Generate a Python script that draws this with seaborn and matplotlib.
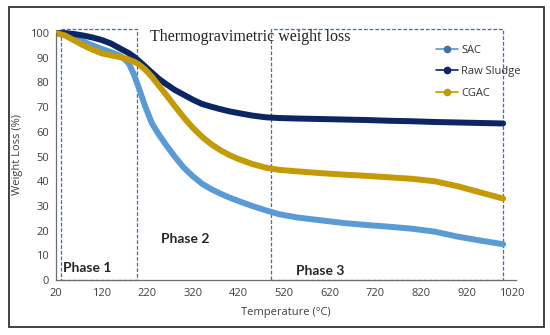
import pandas as pd
import matplotlib
matplotlib.use("Agg")
import matplotlib.pyplot as plt
import seaborn as sns
from matplotlib.lines import Line2D
from matplotlib.patches import Rectangle

# values
temperature = [20, 40, 60, 80, 100, 120, 140, 160, 170, 180, 190, 200, 215, 230, 245, 260, 280, 300,
               320, 340, 360, 380, 400, 420, 450, 480, 510, 550, 600, 650, 700, 750, 800, 850, 900,
               950, 1000]
sac = [100, 99.5, 98, 96.5, 95, 93.6, 92.3, 90.8, 89.5, 87.5, 83.5, 78.5, 70.5, 63.5, 59, 55, 50, 45.5,
       42, 39, 36.8, 35, 33.4, 32, 30, 28.2, 26.6, 25.3, 24.2, 23.1, 22.3, 21.6, 20.8, 19.6, 17.6,
       16, 14.5]
raw_sludge = [100, 100, 99.6, 99, 98.2, 97.2, 95.8, 93.8, 92.8, 91.8, 90.5, 89, 86.5, 84, 81.5, 79.5, 77,
              75, 73, 71.3, 70.2, 69.2, 68.3, 67.6, 66.6, 65.9, 65.6, 65.4, 65.2, 65, 64.8, 64.5, 64.3,
              64, 63.8, 63.6, 63.4]
cgac = [100, 99, 97, 95, 93.3, 91.8, 91, 90.3, 89.8, 89.2, 88.5, 87.5, 85.3, 82.3, 78.8, 75.3, 70.5, 65.8,
        61.6, 58, 55, 52.6, 50.6, 49, 47, 45.5, 44.6, 44, 43.3, 42.7, 42.2, 41.6, 41, 40, 38,
        35.5, 33]

series = ["SAC", "Raw Sludge", "CGAC"]
colors = {"SAC": "#5b9bd5", "Raw Sludge": "#0b2565", "CGAC": "#c49a06"}
marker_colors = {"SAC": "#44729f", "Raw Sludge": "#0b2565", "CGAC": "#c49a06"}
x_ticks = [20, 120, 220, 320, 420, 520, 620, 720, 820, 920, 1020]
y_ticks = [0, 10, 20, 30, 40, 50, 60, 70, 80, 90, 100]

df = pd.DataFrame({"Temperature": temperature * 3,
                   "Weight": sac + raw_sludge + cgac,
                   "Sample": ["SAC"] * len(sac) + ["Raw Sludge"] * len(raw_sludge) + ["CGAC"] * len(cgac)})

sns.set_style("white")
fig = plt.figure(figsize=(5.5, 3.35), dpi=100)
ax = fig.add_axes([0.102, 0.164, 0.836, 0.752])

# outer frame
fig.patches.append(Rectangle((0.016, 0.024), 0.973, 0.955, transform=fig.transFigure,
                             fill=False, edgecolor="#333333", lw=1.3))

sns.lineplot(data=df, x="Temperature", y="Weight", hue="Sample", hue_order=series,
             palette=colors, lw=4.3, legend=False, ax=ax, sort=False)
for ln in ax.get_lines():
    ln.set_solid_capstyle("round")
    ln.set_solid_joinstyle("round")

# phase boxes
box_kw = dict(fill=False, edgecolor="#3f6fb0", lw=0.9, ls=(0, (3, 1.5)), clip_on=False)
ax.add_patch(Rectangle((31, 0), 167, 101.6, **box_kw))
ax.add_patch(Rectangle((491, 0), 509, 101.6, **box_kw))

ax.text(35, 5, "Phase 1", fontsize=10, fontweight="bold", family="Lato", va="center")
ax.text(250, 16.6, "Phase 2", fontsize=10, fontweight="bold", family="Lato", va="center")
ax.text(546, 3.5, "Phase 3", fontsize=10, fontweight="bold", family="Lato", va="center")
ax.text(226, 98.4, "Thermogravimetric weight loss", fontsize=11.5,
        family="Liberation Serif", va="center", color="#222222")

ax.set_xlim(20, 1028)
ax.set_ylim(0, 102)
ax.set_xticks(x_ticks)
ax.set_yticks(y_ticks)
sns.despine(ax=ax)
for s in ["left", "bottom"]:
    ax.spines[s].set_color("#6e6e6e")
    ax.spines[s].set_linewidth(0.9)
ax.spines["left"].set_bounds(0, 100)
ax.tick_params(axis="y", direction="out", length=3, color="#6e6e6e", labelsize=8,
               labelcolor="#404040", pad=2)
ax.tick_params(axis="x", direction="in", length=3, color="#6e6e6e", labelsize=8,
               labelcolor="#404040", pad=6)
ax.set_xlabel("Temperature (°C)", fontsize=8, color="#404040")
ax.xaxis.set_label_coords(0.5, -0.105)
ax.set_ylabel("Weight Loss (%)", fontsize=8, color="#404040")
ax.yaxis.set_label_coords(-0.071, 0.5)
for lab in ax.get_xticklabels() + ax.get_yticklabels():
    lab.set_family("Open Sans")
ax.xaxis.label.set_family("Open Sans")
ax.yaxis.label.set_family("Open Sans")

handles = [Line2D([], [], color=colors[s], marker="o", markersize=4.5,
                  markerfacecolor=marker_colors[s], markeredgecolor=marker_colors[s], lw=1.2)
           for s in series]
leg = ax.legend(handles, series, loc="upper left", bbox_to_anchor=(0.774, 0.897),
                bbox_transform=fig.transFigure, frameon=False,
                handlelength=2.0, handletextpad=0.3, labelspacing=0.95,
                prop={"family": "Open Sans", "size": 8})
for t in leg.get_texts():
    t.set_color("#333333")

fig.savefig("out.png", dpi=100)
